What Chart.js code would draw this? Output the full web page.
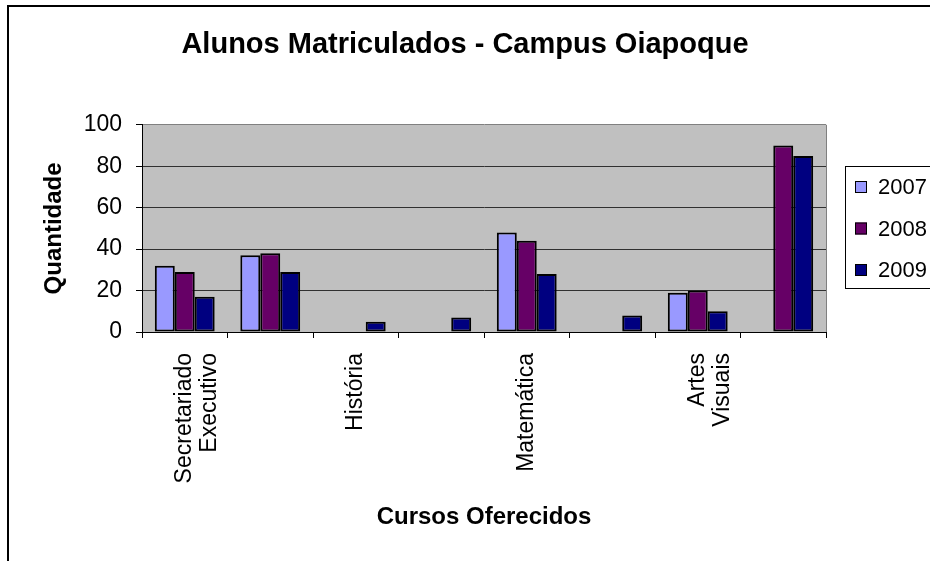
<!DOCTYPE html>
<html>
<head>
<meta charset="utf-8">
<script src="https://cdn.jsdelivr.net/npm/chart.js@4.4.0/dist/chart.umd.min.js"></script>
<style>
    html, body { margin: 0; padding: 0; background: #fff; overflow: hidden; }
    #wrap { position: relative; width: 930px; height: 561px; }
</style>
</head>
<body>
<div id="wrap"><canvas id="chart" width="930" height="561"></canvas></div>
<script>
// Chart data
const categories = [['Secretariado', 'Executivo'], '', 'História', '', 'Matemática', '', ['Artes', 'Visuais'], ''];
const years = ['2007', '2008', '2009'];
const values2007 = [32, 37, null, null, 48, null, 19, null];
const values2008 = [29, 38, null, null, 44, null, 20, 90];
const values2009 = [17, 29, 5, 7, 28, 8, 10, 85];
const yTicks = [0, 20, 40, 60, 80, 100];

const colors = ['#9999FF', '#660066', '#000080'];
const fontFamily = "'Liberation Sans', Arial, sans-serif";

// Outer frame and grey plot area
const framePlugin = {
    id: 'frame',
    beforeDraw(chart) {
        const ctx = chart.ctx;
        const a = chart.chartArea;
        ctx.save();
        ctx.fillStyle = '#ffffff';
        ctx.fillRect(0, 0, chart.width, chart.height);
        ctx.strokeStyle = '#000';
        ctx.lineWidth = 2;
        ctx.strokeRect(8, 6, chart.width + 10, chart.height + 10);
        ctx.fillStyle = '#C0C0C0';
        ctx.fillRect(a.left, a.top, a.right - a.left, a.bottom - a.top);
        ctx.restore();
    },
    beforeDatasetsDraw(chart) {
        const ctx = chart.ctx;
        const a = chart.chartArea;
        ctx.save();
        ctx.strokeStyle = '#808080';
        ctx.lineWidth = 1;
        ctx.beginPath();
        ctx.moveTo(a.right + 0.5, a.top);
        ctx.lineTo(a.right + 0.5, a.bottom);
        ctx.stroke();
        ctx.restore();
    }
};

// Excel-like legend box on the right
const legendPlugin = {
    id: 'boxLegend',
    afterDraw(chart) {
        const ctx = chart.ctx;
        const x = 845, y = 166;
        ctx.save();
        ctx.strokeStyle = '#000';
        ctx.lineWidth = 1;
        ctx.strokeRect(x + 0.5, y + 0.5, 120, 122);
        ctx.font = '22px ' + fontFamily;
        ctx.textBaseline = 'middle';
        chart.data.datasets.forEach((ds, i) => {
            const cy = y + 21 + i * 41.5;
            ctx.fillStyle = ds.backgroundColor;
            ctx.fillRect(x + 10, cy - 6, 12, 12);
            ctx.strokeRect(x + 10.5, cy - 5.5, 11, 11);
            ctx.fillStyle = '#000';
            ctx.fillText(ds.label, x + 33, cy + 1);
        });
        ctx.restore();
    }
};

const seriesValues = [values2007, values2008, values2009];

new Chart(document.getElementById('chart'), {
    type: 'bar',
    data: {
        labels: categories,
        datasets: years.map((year, i) => ({
            label: year,
            data: seriesValues[i],
            backgroundColor: colors[i],
            borderColor: '#000',
            borderWidth: 2,
            borderSkipped: false,
            categoryPercentage: 0.7,
            barPercentage: 1.0
        }))
    },
    options: {
        responsive: false,
        animation: false,
        layout: { padding: 0 },
        plugins: {
            legend: { display: false },
            tooltip: { enabled: false },
            title: {
                display: true,
                text: 'Alunos Matriculados - Campus Oiapoque',
                color: '#000',
                font: { family: fontFamily, size: 29, weight: 'bold' },
                padding: { top: 28, bottom: 62 }
            }
        },
        scales: {
            x: {
                offset: true,
                grid: {
                    offset: true,
                    drawOnChartArea: false,
                    drawTicks: true,
                    tickLength: 6,
                    tickColor: '#000'
                },
                border: { color: '#000', width: 1 },
                ticks: {
                    autoSkip: false,
                    maxRotation: 90,
                    minRotation: 90,
                    padding: 15,
                    color: '#000',
                    font: { family: fontFamily, size: 23, lineHeight: 1.1 }
                },
                title: {
                    display: true,
                    text: 'Cursos Oferecidos',
                    color: '#000',
                    font: { family: fontFamily, size: 24, weight: 'bold' },
                    padding: { top: 0, bottom: 29 }
                },
                afterFit(scale) { scale.height = 229; }
            },
            y: {
                min: 0,
                max: 100,
                afterBuildTicks(scale) { scale.ticks = yTicks.map(v => ({ value: v })); },
                grid: {
                    color: ctx => (ctx.tick && ctx.tick.value === 100) ? '#808080' : '#303030',
                    tickColor: '#000',
                    tickLength: 6,
                    lineWidth: 1
                },
                border: { color: '#000', width: 1 },
                ticks: {
                    padding: 14,
                    color: '#000',
                    font: { family: fontFamily, size: 23 }
                },
                title: {
                    display: true,
                    text: 'Quantidade',
                    color: '#000',
                    font: { family: fontFamily, size: 24, weight: 'bold' },
                    padding: { top: 40, bottom: 0 }
                },
                afterFit(scale) { scale.width = 142; }
            },
            // empty right-hand axis: reserves the legend space so the title stays centred on the canvas
            yRight: {
                position: 'right',
                display: true,
                grid: { display: false },
                border: { display: false },
                ticks: { display: false },
                afterFit(scale) { scale.width = 104; }
            }
        }
    },
    plugins: [framePlugin, legendPlugin]
});
</script>
</body>
</html>
